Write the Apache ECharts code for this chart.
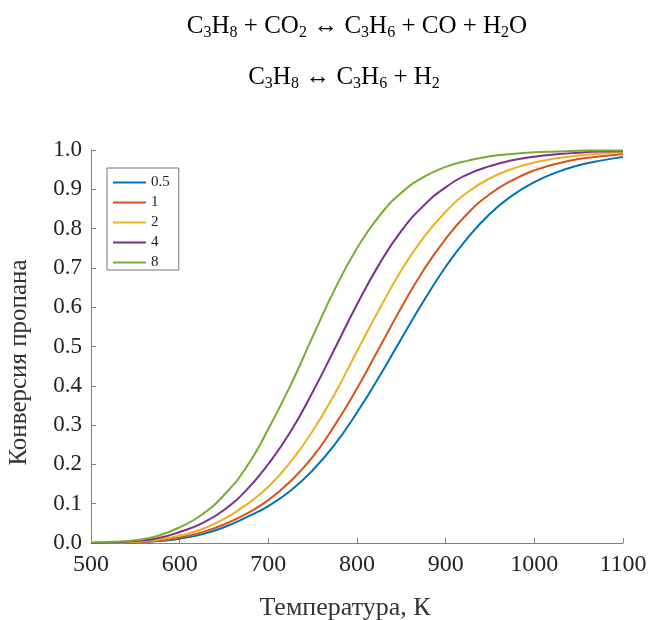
<!DOCTYPE html>
<html>
<head>
<meta charset="utf-8">
<script src="https://cdn.jsdelivr.net/npm/echarts@6/dist/echarts.min.js"></script>
<style>html,body{margin:0;padding:0;background:#fff;}#chart{width:650px;height:620px;}</style>
</head>
<body>
<div id="chart"></div>
<script>
const temps = [500,525,550,575,600,625,650,675,700,725,750,775,800,825,850,875,900,925,950,975,1000,1025,1050,1075,1100];
const seriesNames = ['0.5','1','2','4','8'];
const conv05 = [0.000,0.001,0.002,0.005,0.011,0.022,0.040,0.065,0.094,0.133,0.185,0.251,0.332,0.423,0.520,0.615,0.703,0.777,0.838,0.884,0.918,0.943,0.961,0.973,0.982];
const conv1  = [0.000,0.001,0.002,0.006,0.014,0.027,0.047,0.074,0.109,0.157,0.219,0.300,0.393,0.496,0.599,0.694,0.774,0.839,0.888,0.923,0.948,0.965,0.977,0.984,0.990];
const conv2  = [0.000,0.001,0.003,0.008,0.019,0.035,0.061,0.097,0.143,0.206,0.285,0.380,0.488,0.594,0.694,0.777,0.843,0.893,0.928,0.952,0.968,0.979,0.986,0.991,0.994];
const conv4  = [0.000,0.002,0.005,0.012,0.028,0.050,0.084,0.134,0.201,0.283,0.384,0.495,0.607,0.709,0.794,0.858,0.905,0.938,0.959,0.974,0.983,0.989,0.993,0.996,0.997];
const conv8  = [0.001,0.003,0.007,0.018,0.040,0.072,0.122,0.192,0.290,0.401,0.525,0.646,0.750,0.832,0.891,0.931,0.957,0.973,0.984,0.990,0.994,0.996,0.998,0.999,0.999];
const allSeries = [conv05, conv1, conv2, conv4, conv8];
const colors = ['#0072BD','#D95319','#EDB120','#7E2F8E','#77AC30'];
const xTicks = [500,600,700,800,900,1000,1100];
const yTicks = [0,0.1,0.2,0.3,0.4,0.5,0.6,0.7,0.8,0.9,1.0];

const serif = '"Liberation Serif", "DejaVu Serif", serif';
const rich = {
  n: {fontSize: 25, fontFamily: serif, color: '#222'},
  s: {fontSize: 16, fontFamily: serif, color: '#222', padding: [13,0,0,0]}
};

const chart = echarts.init(document.getElementById('chart'), null, {renderer: 'canvas'});
chart.setOption({
  backgroundColor: '#fff',
  animation: false,
  color: colors,
  graphic: [
    {type: 'text', x: 357, y: 26, style: {text: '{n|C}{s|3}{n|H}{s|8}{n| + CO}{s|2}{n| \u2194 C}{s|3}{n|H}{s|6}{n| + CO + H}{s|2}{n|O}', rich: rich, textAlign: 'center', textVerticalAlign: 'middle'}},
    {type: 'text', x: 344, y: 77, style: {text: '{n|C}{s|3}{n|H}{s|8}{n| \u2194 C}{s|3}{n|H}{s|6}{n| + H}{s|2}', rich: rich, textAlign: 'center', textVerticalAlign: 'middle'}}
  ],
  legend: {
    orient: 'vertical',
    left: 107, top: 168,
    padding: [7, 9, 0, 5],
    itemGap: 5,
    itemWidth: 33,
    itemHeight: 14,
    borderColor: '#777',
    borderWidth: 1,
    itemStyle: {opacity: 0},
    textStyle: {fontFamily: serif, fontSize: 15, color: '#222'},
    data: seriesNames
  },
  grid: {left: 91, right: 27, top: 150, bottom: 77, containLabel: false, outerBoundsMode: 'none'},
  xAxis: {
    type: 'value', min: 500, max: 1100, interval: 100,
    name: 'Температура, К', nameLocation: 'middle', nameGap: 52,
    nameTextStyle: {fontFamily: serif, fontSize: 26, color: '#333', padding: [0, 24, 0, 0]},
    axisLine: {show: true, lineStyle: {color: '#7f7f7f', width: 1}},
    axisTick: {show: true, inside: true, length: 5, lineStyle: {color: '#7f7f7f'}},
    axisLabel: {fontFamily: serif, fontSize: 24, color: '#222', margin: 10, formatter: v => String(v)},
    splitLine: {show: false}
  },
  yAxis: {
    type: 'value', min: 0, max: 1, interval: 0.1,
    name: 'Конверсия пропана', nameLocation: 'middle', nameGap: 59,
    nameTextStyle: {fontFamily: serif, fontSize: 25, color: '#333', padding: [0, 32, 0, 0]},
    axisLine: {show: true, lineStyle: {color: '#7f7f7f', width: 1}},
    axisTick: {show: true, inside: true, length: 5, lineStyle: {color: '#7f7f7f'}},
    axisLabel: {fontFamily: serif, fontSize: 23, color: '#222', margin: 9, formatter: v => v.toFixed(1)},
    splitLine: {show: false}
  },
  series: seriesNames.map((nm, k) => ({
    name: nm,
    type: 'line',
    smooth: true,
    symbol: 'none',
    lineStyle: {width: 2, color: colors[k]},
    itemStyle: {color: colors[k]},
    data: temps.map((t, i) => [t, allSeries[k][i]])
  }))
});
</script>
</body>
</html>
